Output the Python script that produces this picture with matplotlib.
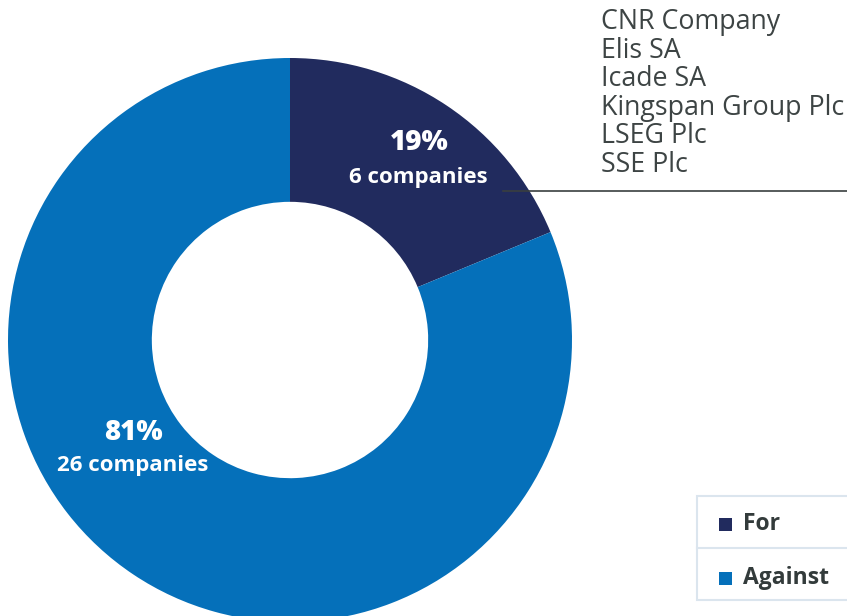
import matplotlib.pyplot as plt
from matplotlib.patches import Rectangle

# Data
labels = ['For', 'Against']
counts = [6, 26]
colors = ['#212B5E', '#0570BA']
for_names = ['CNR Company', 'Elis SA', 'Icade SA', 'Kingspan Group Plc', 'LSEG Plc', 'SSE Plc']

W, H = 847, 616
plt.rcParams['font.family'] = ['Open Sans', 'DejaVu Sans']

fig = plt.figure(figsize=(W / 100, H / 100), dpi=100)
ax = fig.add_axes([0, 0, 1, 1])

# donut, coordinates in pixels (y up)
cx, cy, r = 290, H - 340, 282
wedges, _ = ax.pie(counts, colors=colors, startangle=90, counterclock=False,
                   radius=r, center=(cx, cy), frame=True,
                   wedgeprops=dict(width=r * 0.51, linewidth=0))
ax.set_xlim(0, W)
ax.set_ylim(0, H)
ax.set_aspect('equal')
ax.axis('off')

total = sum(counts)
pct = [round(100 * c / total) for c in counts]

# slice labels
ax.text(419, H - 143, f'{pct[0]}%', ha='center', va='center', color='white',
        fontsize=20, fontweight='extra bold')
ax.text(418, H - 177, f'{counts[0]} companies', ha='center', va='center',
        color='white', fontsize=16, fontweight='bold')
ax.text(133, H - 433, f'{pct[1]}%', ha='center', va='center', color='white',
        fontsize=20, fontweight='extra bold')
ax.text(133, H - 466, f'{counts[1]} companies', ha='center', va='center',
        color='white', fontsize=16, fontweight='bold')

# leader line and names
ax.plot([503, W], [H - 191, H - 191], color='#3a3f3f', lw=1.2)
for i, name in enumerate(for_names):
    ax.text(601, H - (22 + i * 28.6), name, ha='left', va='center',
            color='#3d4444', fontsize=19.3)

# legend box
border = '#dbe5ee'
ax.add_patch(Rectangle((697, H - 600), 160, 104, facecolor='white',
                       edgecolor=border, lw=1.5))
ax.plot([697, W], [H - 548, H - 548], color=border, lw=1.5)
for i, (lab, col) in enumerate(zip(labels, colors)):
    yy = H - (524 + i * 54)
    ax.add_patch(Rectangle((719, yy - 6.5), 13, 13, facecolor=col, edgecolor='none'))
    ax.text(743, yy, lab, ha='left', va='center', color='#333b3b',
            fontsize=16.5, fontweight='bold')

fig.savefig('out.png', dpi=100)
